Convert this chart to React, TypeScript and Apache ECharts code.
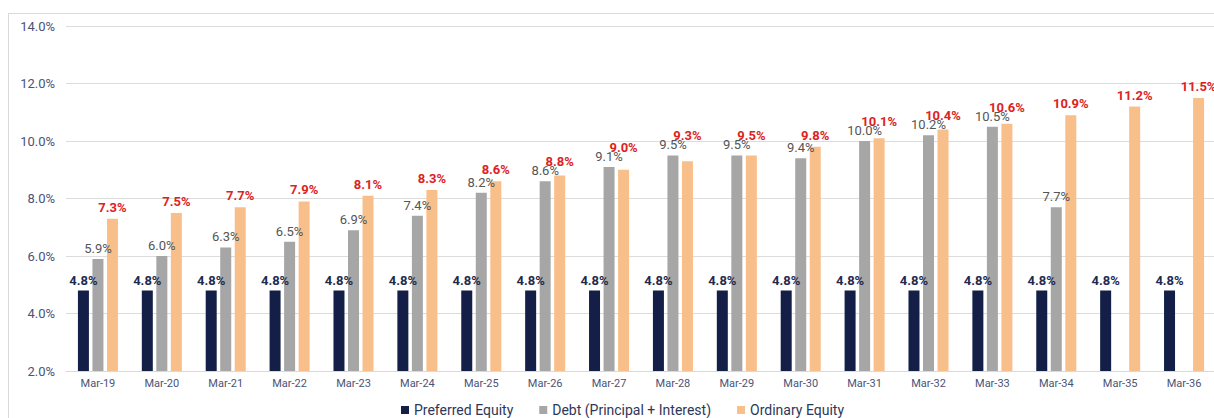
import React, { useEffect, useRef } from "react";
import * as echarts from "echarts";

const categories = ["Mar-19","Mar-20","Mar-21","Mar-22","Mar-23","Mar-24","Mar-25","Mar-26","Mar-27","Mar-28","Mar-29","Mar-30","Mar-31","Mar-32","Mar-33","Mar-34","Mar-35","Mar-36"];
const preferredEquity = [4.8,4.8,4.8,4.8,4.8,4.8,4.8,4.8,4.8,4.8,4.8,4.8,4.8,4.8,4.8,4.8,4.8,4.8];
const debt: (number | null)[] = [5.9,6.0,6.3,6.5,6.9,7.4,8.2,8.6,9.1,9.5,9.5,9.4,10.0,10.2,10.5,7.7,null,null];
const ordinaryEquity = [7.3,7.5,7.7,7.9,8.1,8.3,8.6,8.8,9.0,9.3,9.5,9.8,10.1,10.4,10.6,10.9,11.2,11.5];

const FONT = "Roboto, 'Noto Sans', sans-serif";
const LABEL_SIZE = 13;
const DEBT_DIST = 4;

export default function App() {
  const ref = useRef<HTMLDivElement>(null);
  useEffect(() => {
    if (!ref.current) return;
    const chart = echarts.init(ref.current, null, { renderer: "svg" });
    const fmt = (p: any) => (p.value == null ? "" : `${Number(p.value).toFixed(1)}%`);
    const redLayout = (p: any) => {
      const d = debt[p.dataIndex];
      if (d == null) return {};
      const grayTop = chart.convertToPixel({ yAxisIndex: 0 }, d) as unknown as number;
      if (typeof grayTop !== "number" || isNaN(grayTop)) return {};
      const grayCenter = grayTop - DEBT_DIST - LABEL_SIZE / 2;
      const redCenter = p.labelRect.y + p.labelRect.height / 2;
      const target = grayCenter - 9;
      if (redCenter > target) return { dy: target - redCenter };
      return {};
    };
    chart.setOption({
      animation: false,
      textStyle: { fontFamily: FONT },
      grid: { left: 57, right: 20, top: 12, bottom: 47, containLabel: false },
      legend: {
        top: 384,
        left: "center",
        itemWidth: 8,
        itemHeight: 8,
        itemGap: 26,
        icon: "rect",
        textStyle: { fontSize: 14, color: "#2f3757", fontFamily: FONT },
        data: ["Preferred Equity", "Debt (Principal + Interest)", "Ordinary Equity"],
      },
      xAxis: {
        type: "category",
        data: categories,
        axisTick: { show: false },
        axisLine: { lineStyle: { color: "#d9d9d9" } },
        axisLabel: { color: "#4a5378", fontSize: 11, margin: 7, fontFamily: FONT },
      },
      yAxis: {
        type: "value",
        min: 2,
        max: 14,
        interval: 2,
        axisLine: { show: false },
        axisTick: { show: false },
        splitLine: { lineStyle: { color: "#dcdcdc", width: 1 } },
        axisLabel: {
          color: "#4a5378",
          fontSize: 13,
          margin: 11,
          fontFamily: FONT,
          formatter: (v: number) => `${v.toFixed(1)}%`,
        },
      },
      series: [
        {
          name: "Preferred Equity",
          type: "bar",
          data: preferredEquity,
          barWidth: 11,
          barGap: "32%",
          itemStyle: { color: "#131f47" },
          label: { show: true, position: "top", distance: 4, formatter: fmt, color: "#1f2a4f", fontWeight: "bold", fontSize: LABEL_SIZE, fontFamily: FONT },
        },
        {
          name: "Debt (Principal + Interest)",
          type: "bar",
          data: debt,
          barWidth: 11,
          barGap: "32%",
          itemStyle: { color: "#a6a6a6" },
          label: { show: true, position: "top", distance: DEBT_DIST, formatter: fmt, color: "#555555", fontSize: LABEL_SIZE, fontFamily: FONT },
        },
        {
          name: "Ordinary Equity",
          type: "bar",
          data: ordinaryEquity,
          barWidth: 11,
          barGap: "32%",
          itemStyle: { color: "#f9bf8a" },
          label: { show: true, position: "top", distance: 5, formatter: fmt, color: "#dd2222", fontWeight: "bold", fontSize: LABEL_SIZE, fontFamily: FONT },
          labelLayout: redLayout,
        },
      ],
    });
    return () => chart.dispose();
  }, []);
  return (
    <div style={{ position: "absolute", left: 0, top: 0, width: 1214, height: 418, overflow: "hidden" }}>
      <div style={{ position: "absolute", left: 8, top: 13, width: 1227, height: 420, borderLeft: "1px solid #d9d9d9", borderTop: "1px solid #d9d9d9" }}>
        <div ref={ref} style={{ width: 1227, height: 404 }} />
      </div>
    </div>
  );
}
